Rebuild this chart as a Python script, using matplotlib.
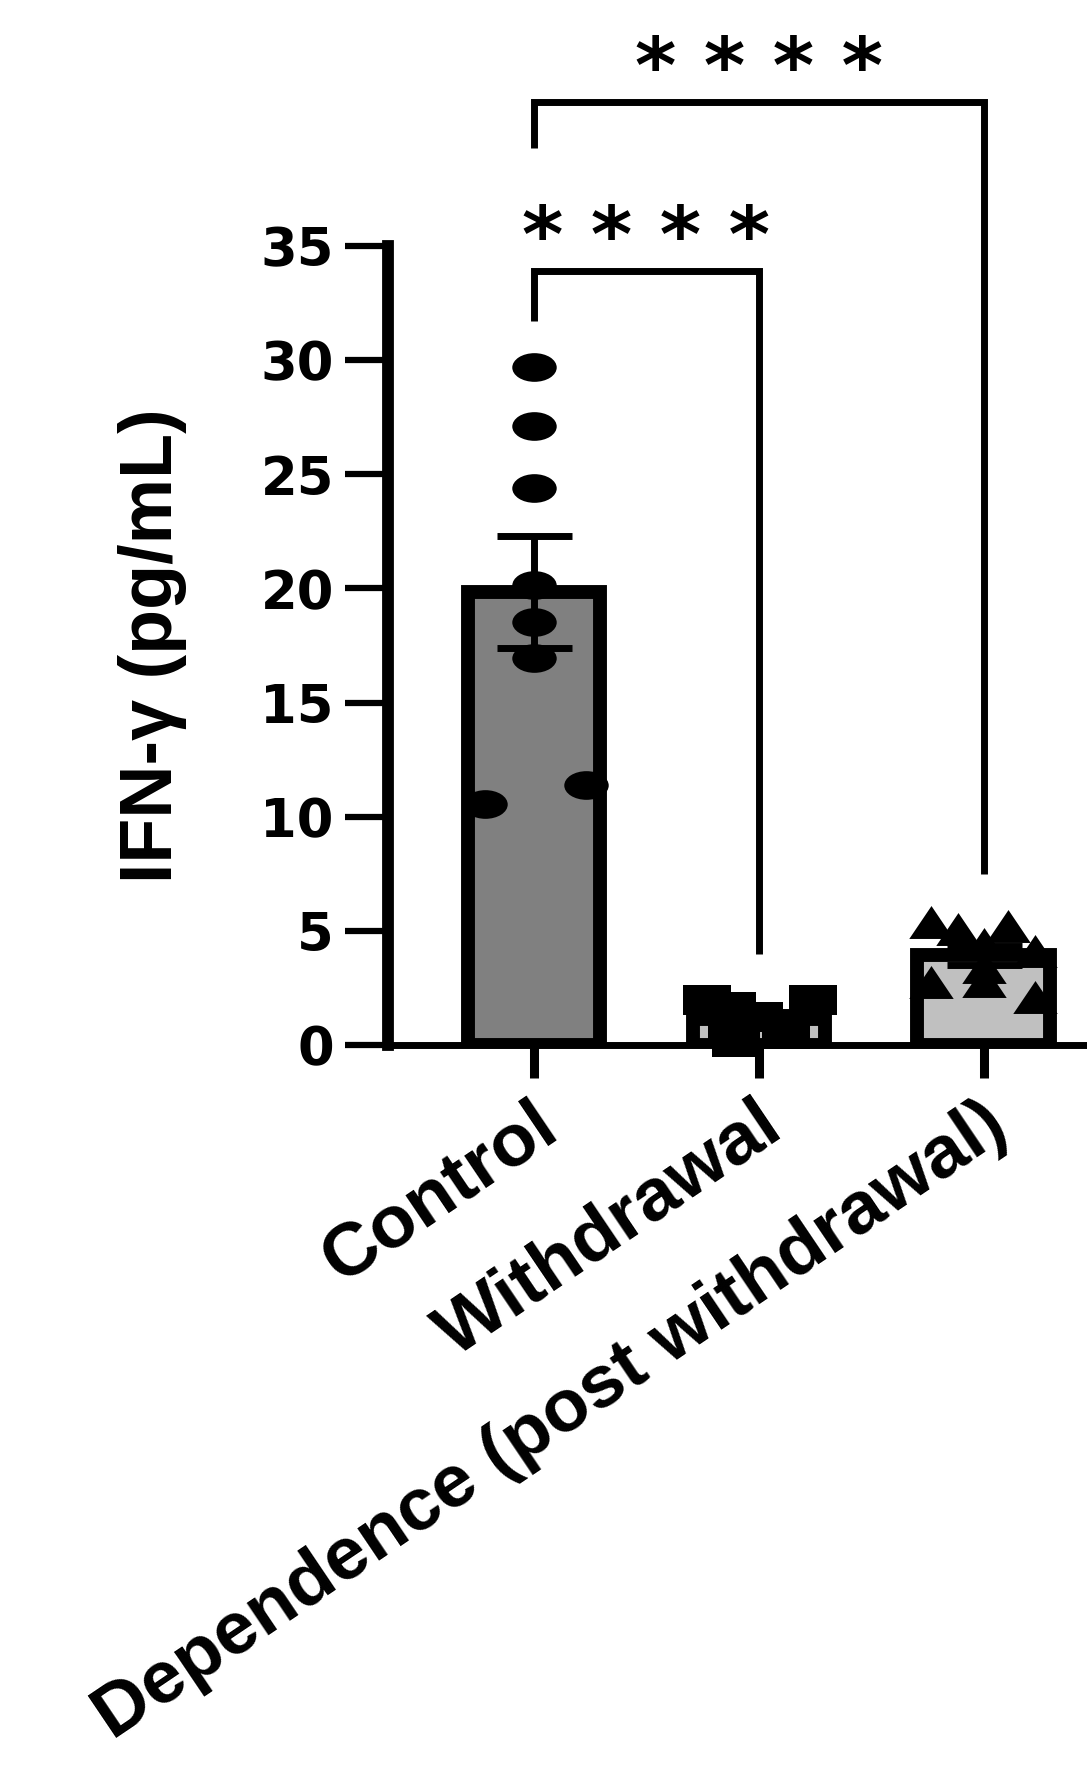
import numpy as np
import matplotlib
matplotlib.use('Agg')
import matplotlib.pyplot as plt
from matplotlib.path import Path
from matplotlib.transforms import ScaledTranslation

groups = ['Control', 'Withdrawal', 'Dependence (post withdrawal)']
control = [29.7, 27.1, 24.4, 20.15, 18.55, 16.95, 10.55, 11.4]
control_dx = [0, 0, 0, 0, 0, 0, -0.22, 0.23]
withdrawal = [1.97, 1.68, 1.24, 1.97, 0.15, 0.55, 0.5]
withdrawal_dx = [-0.23, -0.12, 0.0, 0.24, -0.1, -0.12, 0.12]
dependence = [5.39, 5.08, 5.23, 4.42, 4.13, 2.75, 2.8, 2.1, 3.4]
dependence_dx = [-0.236, -0.116, 0.11, 0.0, 0.23, -0.236, 0.0, 0.23, 0.0]
bar_colors = ['#808080', '#c0c0c0', '#c0c0c0']
stars = '* * * *'

# wide markers like in the original figure
circ = Path.unit_circle()
ellipse = Path(circ.vertices * [1.55, 1.0], circ.codes)
rect = Path([(-1.55, -1), (1.55, -1), (1.55, 1), (-1.55, 1), (-1.55, -1)],
            [Path.MOVETO, Path.LINETO, Path.LINETO, Path.LINETO, Path.CLOSEPOLY])
tri = Path([(0, 1), (-1.35, -1), (1.35, -1), (0, 1)],
           [Path.MOVETO, Path.LINETO, Path.LINETO, Path.CLOSEPOLY])

data = [control, withdrawal, dependence]
offsets = [control_dx, withdrawal_dx, dependence_dx]
markers = [(ellipse, 32), (rect, 34), (tri, 32)]

means = [np.mean(v) for v in data]
sems = [np.std(v, ddof=1) / np.sqrt(len(v)) for v in data]
x = np.arange(len(groups))

fig = plt.figure(figsize=(10.87, 17.71), dpi=100)
ax = fig.add_axes([388 / 1087, 1 - 1045 / 1771, 699 / 1087, 799 / 1771])

ax.bar(x, means, width=0.59, color=bar_colors, edgecolor='black', linewidth=10, zorder=2)
for i in range(len(groups)):
    ax.plot(x[i] + np.array(offsets[i]), data[i], ls='none', marker=markers[i][0],
            ms=markers[i][1], mew=0, color='black', zorder=3, clip_on=False)
ax.errorbar(x, means, yerr=sems, fmt='none', ecolor='black', elinewidth=5,
            capsize=27, capthick=5, zorder=4)

# significance brackets
ax.plot([0, 0, 1, 1], [31.7, 33.9, 33.9, 4.0], color='black', lw=5, clip_on=False,
        solid_joinstyle='miter', solid_capstyle='butt')
ax.plot([0, 0, 2, 2], [39.3, 41.3, 41.3, 7.5], color='black', lw=5, clip_on=False,
        solid_joinstyle='miter', solid_capstyle='butt')
ax.text(0.5, 34.3, stars, ha='center', va='baseline', fontsize=57,
        fontweight='bold', family='DejaVu Sans')
ax.text(1.0, 41.7, stars, ha='center', va='baseline', fontsize=57,
        fontweight='bold', family='DejaVu Sans')

ax.set_xlim(-0.65, 2.46)
ax.set_ylim(0, 35)
ax.set_yticks(range(0, 36, 5))
ax.spines['top'].set_visible(False)
ax.spines['right'].set_visible(False)
ax.spines['left'].set_linewidth(8.5)
ax.spines['bottom'].set_linewidth(5)
ax.tick_params(axis='y', length=31, width=4.5, pad=8, labelsize=38)
ax.tick_params(axis='x', length=24, width=6.5, pad=8)
for lab in ax.get_yticklabels():
    lab.set_fontweight('bold')
    lab.set_family('DejaVu Sans')

ax.set_xticks(x)
ax.set_xticklabels(groups, rotation=34, ha='right', va='top', rotation_mode='anchor',
                   fontsize=54, fontweight='bold', family='Liberation Sans')
for lab in ax.get_xticklabels():
    lab.set_transform(lab.get_transform() + ScaledTranslation(-0.03, 0, fig.dpi_scale_trans))

ax.set_ylabel('IFN-γ (pg/mL)', fontsize=53, fontweight='bold', family='Liberation Sans')
ax.yaxis.set_label_coords(-0.288, 0.5)

fig.savefig('out.png', dpi=100)
